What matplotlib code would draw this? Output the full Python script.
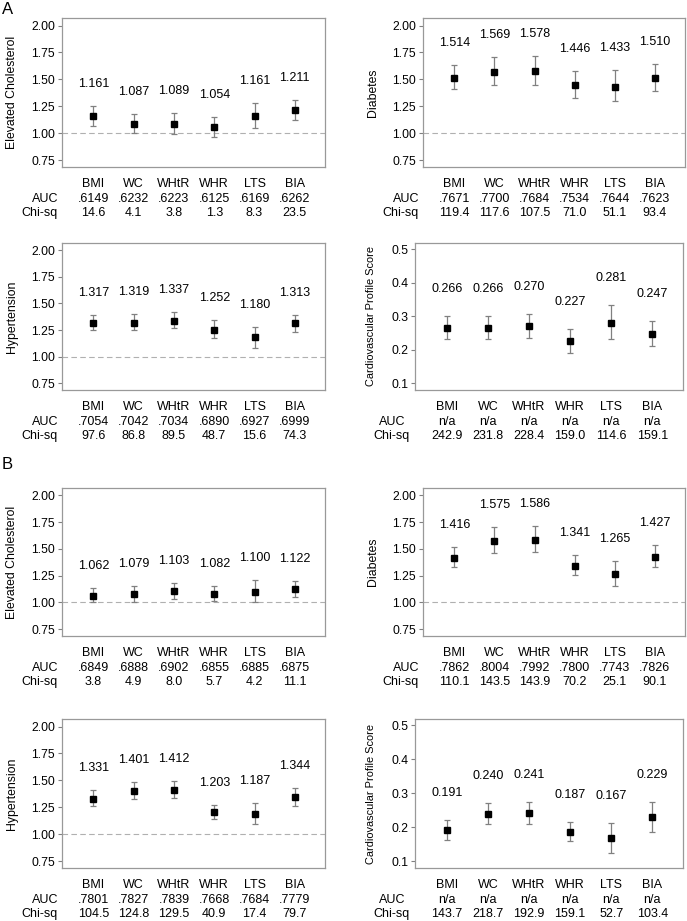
import matplotlib
matplotlib.use("Agg")
import matplotlib.pyplot as plt

plt.rcParams['font.family'] = ['Liberation Sans', 'DejaVu Sans']

measures = ["BMI", "WC", "WHtR", "WHR", "LTS", "BIA"]

# Panel A
aCholOr = [1.161, 1.087, 1.089, 1.054, 1.161, 1.211]
aCholLow = [1.07, 1.00, 0.995, 0.96, 1.047, 1.12]
aCholHigh = [1.25, 1.178, 1.19, 1.15, 1.28, 1.31]
aCholAuc = [".6149", ".6232", ".6223", ".6125", ".6169", ".6262"]
aCholChi = ["14.6", "4.1", "3.8", "1.3", "8.3", "23.5"]

aDiabOr = [1.514, 1.569, 1.578, 1.446, 1.433, 1.510]
aDiabLow = [1.406, 1.45, 1.45, 1.328, 1.30, 1.394]
aDiabHigh = [1.634, 1.703, 1.719, 1.578, 1.584, 1.647]
aDiabAuc = [".7671", ".7700", ".7684", ".7534", ".7644", ".7623"]
aDiabChi = ["119.4", "117.6", "107.5", "71.0", "51.1", "93.4"]

aHypOr = [1.317, 1.319, 1.337, 1.252, 1.180, 1.313]
aHypLow = [1.247, 1.247, 1.265, 1.179, 1.085, 1.231]
aHypHigh = [1.39, 1.402, 1.424, 1.343, 1.281, 1.396]
aHypAuc = [".7054", ".7042", ".7034", ".6890", ".6927", ".6999"]
aHypChi = ["97.6", "86.8", "89.5", "48.7", "15.6", "74.3"]

aCardBeta = [0.266, 0.266, 0.270, 0.227, 0.281, 0.247]
aCardLow = [0.232, 0.232, 0.236, 0.191, 0.231, 0.21]
aCardHigh = [0.299, 0.299, 0.306, 0.263, 0.334, 0.287]
aCardAuc = ["n/a"] * 6
aCardChi = ["242.9", "231.8", "228.4", "159.0", "114.6", "159.1"]

# Panel B
bCholOr = [1.062, 1.079, 1.103, 1.082, 1.100, 1.122]
bCholLow = [1.00, 1.003, 1.03, 1.012, 1.003, 1.05]
bCholHigh = [1.13, 1.155, 1.18, 1.149, 1.205, 1.196]
bCholAuc = [".6849", ".6888", ".6902", ".6855", ".6885", ".6875"]
bCholChi = ["3.8", "4.9", "8.0", "5.7", "4.2", "11.1"]

bDiabOr = [1.416, 1.575, 1.586, 1.341, 1.265, 1.427]
bDiabLow = [1.332, 1.466, 1.475, 1.258, 1.152, 1.332]
bDiabHigh = [1.516, 1.702, 1.711, 1.441, 1.391, 1.537]
bDiabAuc = [".7862", ".8004", ".7992", ".7800", ".7743", ".7826"]
bDiabChi = ["110.1", "143.5", "143.9", "70.2", "25.1", "90.1"]

bHypOr = [1.331, 1.401, 1.412, 1.203, 1.187, 1.344]
bHypLow = [1.259, 1.324, 1.333, 1.14, 1.095, 1.259]
bHypHigh = [1.406, 1.486, 1.498, 1.275, 1.287, 1.431]
bHypAuc = [".7801", ".7827", ".7839", ".7668", ".7684", ".7779"]
bHypChi = ["104.5", "124.8", "129.5", "40.9", "17.4", "79.7"]

bCardBeta = [0.191, 0.240, 0.241, 0.187, 0.167, 0.229]
bCardLow = [0.161, 0.209, 0.208, 0.159, 0.124, 0.186]
bCardHigh = [0.222, 0.272, 0.275, 0.215, 0.212, 0.274]
bCardAuc = ["n/a"] * 6
bCardChi = ["143.7", "218.7", "192.9", "159.1", "52.7", "103.4"]

W, H = 687, 921
FS = 9
GRAY = "#808080"


def createPanel(pFig, pBox, pEst, pLow, pHigh, pAuc, pChi, pYLabel, pCardio):
    """Draw one estimate / CI panel. pBox is (left, top, right, bottom) in pixels."""
    l, t, r, b = pBox
    ax = pFig.add_axes([l / W, 1 - b / H, (r - l) / W, (b - t) / H])
    x = list(range(len(measures)))
    yerr = [[e - lo for e, lo in zip(pEst, pLow)],
            [hi - e for e, hi in zip(pEst, pHigh)]]
    ax.errorbar(x, pEst, yerr=yerr, fmt='s', color='black', markersize=4,
                ecolor=GRAY, elinewidth=0.9, capsize=2, capthick=0.9, zorder=3)

    offset = 27 if pCardio else 22
    for xi, e, hi in zip(x, pEst, pHigh):
        ax.annotate("{:.3f}".format(e), xy=(xi, hi), xytext=(0, offset),
                    textcoords='offset pixels', ha='center', va='center',
                    fontsize=FS)

    if pCardio:
        ax.set_ylim(0.08, 0.518)
        ax.set_yticks([0.1, 0.2, 0.3, 0.4, 0.5])
        ax.set_yticklabels(["0.1", "0.2", "0.3", "0.4", "0.5"])
        ax.set_ylabel(pYLabel, fontsize=7.9)
        ax.yaxis.set_label_coords(-0.145, 0.5)
    else:
        ax.set_ylim(0.685, 2.07)
        ax.set_yticks([0.75, 1.0, 1.25, 1.5, 1.75, 2.0])
        ax.set_yticklabels(["0.75", "1.00", "1.25", "1.50", "1.75", "2.00"])
        ax.axhline(1.0, color="#b0b0b0", linestyle=(0, (5, 3)), linewidth=0.8,
                   zorder=1)
        ax.set_ylabel(pYLabel, fontsize=8.8)
        ax.yaxis.set_label_coords(-0.168, 0.5)

    ax.set_xlim(-0.78, 5.75)
    ax.set_xticks([])
    ax.tick_params(axis='y', labelsize=8.8, length=3, width=0.8, color=GRAY,
                   pad=2)
    for s in ax.spines.values():
        s.set_color("#999999")
        s.set_linewidth(0.9)

    # rows under the axis
    rows = [(measures, 17), (pAuc, 32), (pChi, 46)]
    for labels, dy in rows:
        for xi, lab in zip(x, labels):
            ax.annotate(lab, xy=(xi, 0), xycoords=('data', 'axes fraction'),
                        xytext=(0, -dy), textcoords='offset pixels',
                        ha='center', va='center', fontsize=FS)
    for name, dy in [("AUC", 32), ("Chi-sq", 46)]:
        if pCardio:
            ax.annotate(name, xy=(0, 0), xycoords='axes fraction',
                        xytext=(-23, -dy), textcoords='offset pixels',
                        ha='center', va='center', fontsize=FS)
        else:
            ax.annotate(name, xy=(0, 0), xycoords='axes fraction',
                        xytext=(-4, -dy), textcoords='offset pixels',
                        ha='right', va='center', fontsize=FS)
    return ax


fig = plt.figure(figsize=(W / 100, H / 100), dpi=100)

createPanel(fig, (62, 18, 325, 167), aCholOr, aCholLow, aCholHigh, aCholAuc,
            aCholChi, "Elevated Cholesterol", False)
createPanel(fig, (423, 18, 685, 167), aDiabOr, aDiabLow, aDiabHigh, aDiabAuc,
            aDiabChi, "Diabetes", False)
createPanel(fig, (62, 243, 325, 390), aHypOr, aHypLow, aHypHigh, aHypAuc,
            aHypChi, "Hypertension", False)
createPanel(fig, (415, 243, 683, 390), aCardBeta, aCardLow, aCardHigh, aCardAuc,
            aCardChi, "Cardiovascular Profile Score", True)

createPanel(fig, (62, 488, 325, 636), bCholOr, bCholLow, bCholHigh, bCholAuc,
            bCholChi, "Elevated Cholesterol", False)
createPanel(fig, (423, 488, 685, 636), bDiabOr, bDiabLow, bDiabHigh, bDiabAuc,
            bDiabChi, "Diabetes", False)
createPanel(fig, (62, 719, 325, 868), bHypOr, bHypLow, bHypHigh, bHypAuc,
            bHypChi, "Hypertension", False)
createPanel(fig, (415, 719, 683, 868), bCardBeta, bCardLow, bCardHigh, bCardAuc,
            bCardChi, "Cardiovascular Profile Score", True)

fig.text(2 / W, 1 - 9 / H, "A", fontsize=12, va='center', ha='left')
fig.text(2 / W, 1 - 464 / H, "B", fontsize=12, va='center', ha='left')

fig.savefig("out.png", dpi=100)
